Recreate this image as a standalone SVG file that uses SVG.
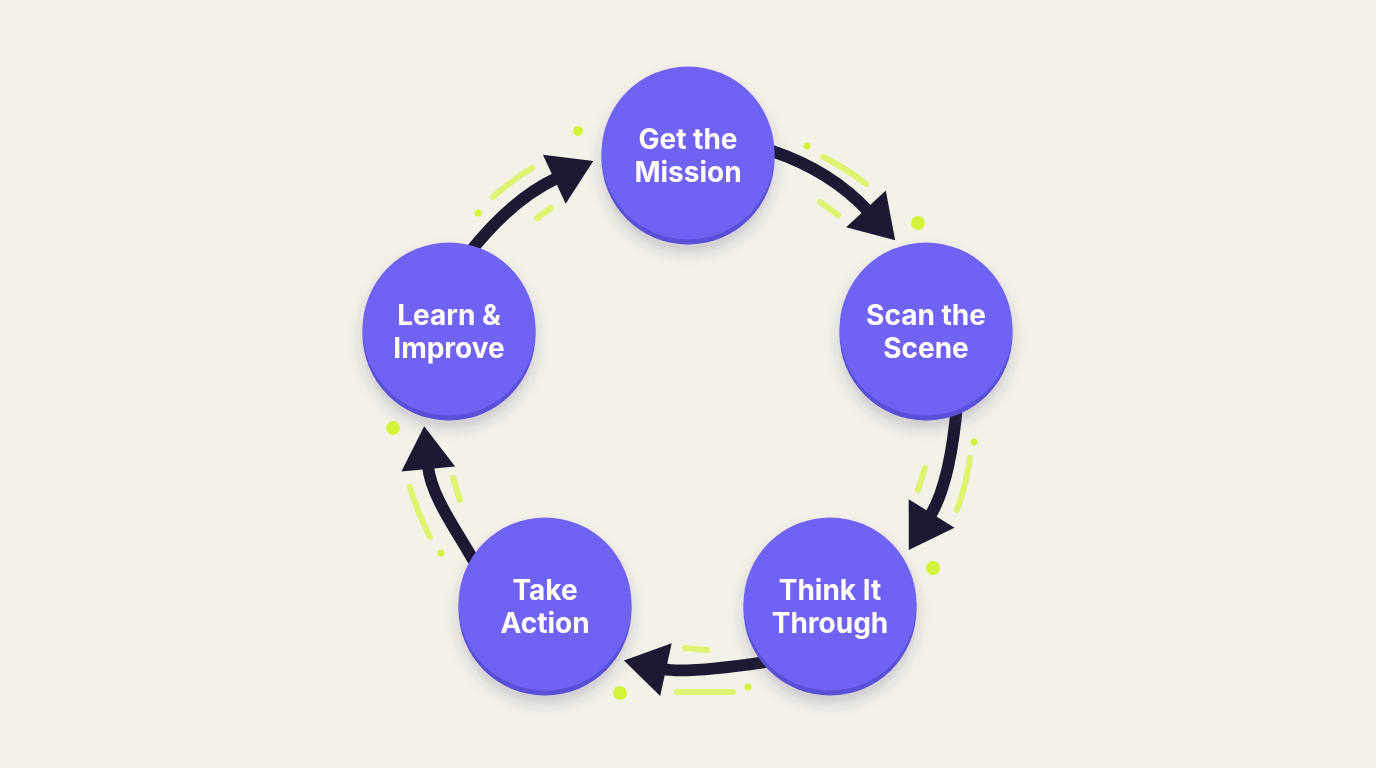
<svg xmlns="http://www.w3.org/2000/svg" width="1376" height="768" viewBox="0 0 1376 768">
<defs>
<style>
.rim{fill:#5a4fd6}
.face{fill:#7063f3}
.lbl{font-family:Inter,"Noto Sans","Liberation Sans",sans-serif;font-weight:700;font-size:28px;fill:#ffffff;text-anchor:middle}
.shaft{fill:none;stroke:#1f1832;stroke-width:12;stroke-linecap:butt}
.dash{fill:none;stroke:#d2f53c;stroke-width:6;stroke-linecap:round;opacity:0.7}
.dot{fill:#d2f53c}
</style>
<filter id="sh" x="-30%" y="-30%" width="160%" height="170%">
<feDropShadow dx="0" dy="8" stdDeviation="7" flood-color="#3a2f6b" flood-opacity="0.22"/>
</filter>
<marker id="ah" markerUnits="userSpaceOnUse" markerWidth="50" markerHeight="60" viewBox="0 -30 46 60" refX="3" refY="0" orient="auto">
<path d="M0,-27 L43,0 L0,27 Z" fill="#1f1832"/>
</marker>
</defs>
<rect width="1376" height="768" fill="#f4f1e9"/>
<g id="accents">
<circle class="dot" cx="578" cy="131" r="5"/>
<path class="dash" d="M493,197 Q512,180 532,168"/>
<circle class="dot" cx="478" cy="213" r="3.5"/>
<path class="dash" d="M537,218 L551,208"/>
<circle class="dot" cx="807" cy="146" r="3.5"/>
<path class="dash" d="M823,157 Q846,168 866,184"/>
<path class="dash" d="M820,202 L838,215"/>
<circle class="dot" cx="918" cy="223" r="7"/>
<circle class="dot" cx="974" cy="442" r="3.5"/>
<path class="dash" d="M970,458 Q966,486 957,510"/>
<path class="dash" d="M925,468 L918,490"/>
<circle class="dot" cx="933" cy="568" r="7"/>
<path class="dash" d="M685,648 L707,650"/>
<path class="dash" d="M677,692 L733,692"/>
<circle class="dot" cx="748" cy="687" r="3.5"/>
<circle class="dot" cx="620" cy="693" r="7"/>
<circle class="dot" cx="393" cy="428" r="7"/>
<path class="dash" d="M410,487 Q418,514 430,537"/>
<path class="dash" d="M453,478 L460,500"/>
<circle class="dot" cx="441" cy="553" r="3.5"/>
</g>
<g id="connectors">
<path class="shaft" marker-end="url(#ah)" d="M470,252 Q512,199 557,178"/>
<path class="shaft" marker-end="url(#ah)" d="M772,151 Q831,171 868,211"/>
<path class="shaft" marker-end="url(#ah)" d="M957,405 Q950,484 930,516"/>
<path class="shaft" marker-end="url(#ah)" d="M772,661 Q686,674 663,669"/>
<path class="shaft" marker-end="url(#ah)" d="M476,565 C458,532 431,497 428,466"/>
</g>
<g id="node-get-mission" filter="url(#sh)">
<circle class="rim" cx="688" cy="158" r="86.5"/>
<circle class="face" cx="688" cy="153" r="86.5"/>
<text class="lbl" x="688" y="148.5">Get the</text>
<text class="lbl" x="688" y="181.5">Mission</text>
</g>
<g id="node-scan-scene" filter="url(#sh)">
<circle class="rim" cx="926" cy="334" r="86.5"/>
<circle class="face" cx="926" cy="329" r="86.5"/>
<text class="lbl" x="926" y="324.5">Scan the</text>
<text class="lbl" x="926" y="357.5">Scene</text>
</g>
<g id="node-think-through" filter="url(#sh)">
<circle class="rim" cx="830" cy="609" r="86.5"/>
<circle class="face" cx="830" cy="604" r="86.5"/>
<text class="lbl" x="830" y="599.5">Think It</text>
<text class="lbl" x="830" y="632.5">Through</text>
</g>
<g id="node-take-action" filter="url(#sh)">
<circle class="rim" cx="545" cy="609" r="86.5"/>
<circle class="face" cx="545" cy="604" r="86.5"/>
<text class="lbl" x="545" y="599.5">Take</text>
<text class="lbl" x="545" y="632.5">Action</text>
</g>
<g id="node-learn-improve" filter="url(#sh)">
<circle class="rim" cx="449" cy="334" r="86.5"/>
<circle class="face" cx="449" cy="329" r="86.5"/>
<text class="lbl" x="449" y="324.5">Learn &amp;</text>
<text class="lbl" x="449" y="357.5">Improve</text>
</g>
</svg>
